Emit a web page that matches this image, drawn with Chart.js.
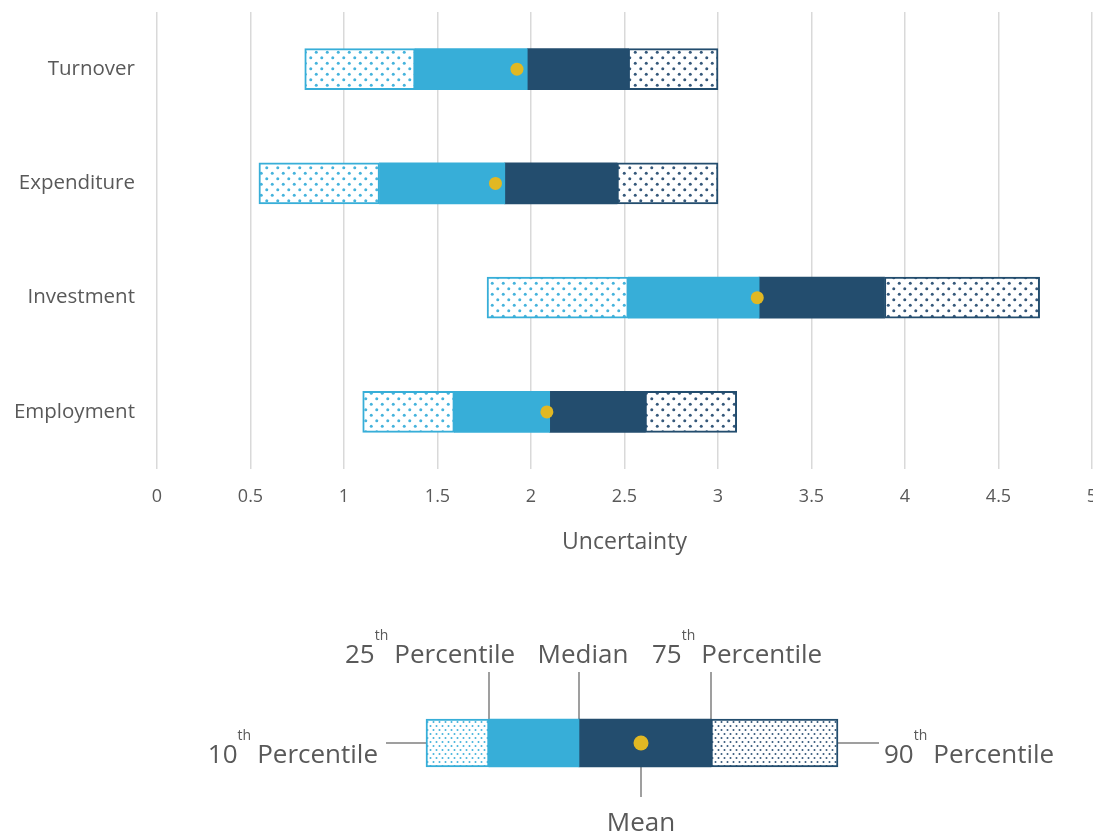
<!DOCTYPE html>
<html>
<head>
<meta charset="utf-8">
<script src="https://cdn.jsdelivr.net/npm/chart.js@4.4.1/dist/chart.umd.min.js"></script>
<style>
  html, body { margin: 0; padding: 0; background: #ffffff; overflow: hidden; width: 1093px; height: 836px; }
  #main { position: absolute; left: 0; top: 0; }
  #key  { position: absolute; left: 0; top: 600px; }
</style>
</head>
<body>
<canvas id="main" width="1097" height="570"></canvas>
<canvas id="key" width="1093" height="236"></canvas>
<script>
// ---- data ----
const categories = ['Turnover', 'Expenditure', 'Investment', 'Employment'];
const p10    = [0.79, 0.545, 1.765, 1.10];
const p25    = [1.38, 1.19, 2.52, 1.59];
const median = [1.98, 1.86, 3.22, 2.10];
const p75    = [2.52, 2.46, 3.89, 2.61];
const p90    = [3.00, 3.00, 4.72, 3.10];
const mean   = [1.925, 1.81, 3.21, 2.085];

const xTickValues = [0, 0.5, 1, 1.5, 2, 2.5, 3, 3.5, 4, 4.5, 5];
const xTickLabels = ['0', '0.5', '1', '1.5', '2', '2.5', '3', '3.5', '4', '4.5', '5'];
const xTitle = 'Uncertainty';

// illustrative distribution used in the key below the chart
const keyLabel  = ['Key'];
const keyP10    = [4.26];
const keyP25    = [4.89];
const keyMedian = [5.79];
const keyP75    = [7.11];
const keyP90    = [8.38];
const keyMean   = [6.41];

// ---- styling ----
const LIGHT = '#37AED8';
const DARK  = '#234D6E';
const GOLD  = '#E1B823';
const TEXT  = '#595959';
const FONT  = "'Open Sans', 'DejaVu Sans', sans-serif";

function dotPattern(ctx, dotColor, w, h, r, pts) {
  const c = document.createElement('canvas');
  c.width = w; c.height = h;
  const g = c.getContext('2d');
  g.fillStyle = '#ffffff';
  g.fillRect(0, 0, w, h);
  g.fillStyle = dotColor;
  pts.forEach(([x, y]) => { g.beginPath(); g.arc(x, y, r, 0, Math.PI * 2); g.fill(); });
  return ctx.createPattern(c, 'repeat');
}

const mainCtx = document.getElementById('main').getContext('2d');
const keyCtx  = document.getElementById('key').getContext('2d');

const lightDots    = dotPattern(mainCtx, '#45B3DC', 11, 11, 1.5, [[2.75, 2.75], [8.25, 8.25]]);
const darkDots     = dotPattern(mainCtx, '#35587A', 11, 11, 1.5, [[2.75, 2.75], [8.25, 8.25]]);
const keyLightDots = dotPattern(keyCtx, '#45B3DC', 6, 8, 1.0, [[1.5, 2], [4.5, 6]]);
const keyDarkDots  = dotPattern(keyCtx, '#35587A', 6, 8, 1.0, [[1.5, 2], [4.5, 6]]);

function segment(label, lo, hi, fill, edge, patterned, thickness) {
  return {
    label: label,
    data: lo.map((v, i) => [v, hi[i]]),
    backgroundColor: fill,
    borderColor: edge,
    borderWidth: patterned ? 2 : 0,
    borderSkipped: false,
    barThickness: thickness,
    grouped: false,
    order: 1
  };
}

// ---- main chart ----
new Chart(mainCtx, {
  type: 'bar',
  data: {
    labels: categories,
    datasets: [
      {
        type: 'line',
        label: 'Mean',
        data: mean,
        showLine: false,
        pointRadius: 6.5,
        pointHoverRadius: 6.5,
        pointBackgroundColor: GOLD,
        pointBorderWidth: 0,
        order: 0
      },
      segment('10th–25th percentile', p10, p25, lightDots, LIGHT, true, 41),
      segment('25th percentile–median', p25, median, LIGHT, LIGHT, false, 41),
      segment('Median–75th percentile', median, p75, DARK, DARK, false, 41),
      segment('75th–90th percentile', p75, p90, darkDots, DARK, true, 41)
    ]
  },
  options: {
    indexAxis: 'y',
    responsive: false,
    animation: false,
    events: [],
    layout: { autoPadding: false, padding: { top: 12, left: 0, right: 0, bottom: 0 } },
    plugins: { legend: { display: false }, tooltip: { enabled: false } },
    scales: {
      x: {
        type: 'linear',
        min: 0,
        max: 5,
        afterBuildTicks: (scale) => { scale.ticks = xTickValues.map(v => ({ value: v })); },
        afterFit: (scale) => {
          scale.height = 101;
          scale.paddingLeft = 0;
          scale.paddingRight = 5;
        },
        grid: { color: '#D9D9D9', lineWidth: 1.5, drawTicks: false },
        border: { display: false },
        ticks: {
          color: TEXT,
          font: { family: FONT, size: 18 },
          padding: 17,
          maxRotation: 0,
          autoSkip: false,
          callback: (v) => xTickLabels[xTickValues.indexOf(v)]
        },
        title: {
          display: true,
          text: xTitle,
          color: TEXT,
          font: { family: FONT, size: 23 },
          padding: { top: 0, bottom: 14 }
        }
      },
      y: {
        type: 'category',
        afterFit: (scale) => {
          scale.width = 157;
          scale.paddingTop = 0;
          scale.paddingBottom = 0;
        },
        grid: { display: false, drawTicks: false },
        border: { display: false },
        ticks: {
          color: TEXT,
          font: { family: FONT, size: 20.5 },
          padding: 22
        }
      }
    }
  }
});

// ---- key ----
const keyAnnotations = {
  id: 'keyAnnotations',
  beforeDatasetsDraw(chart) {
    const { ctx, scales: { x, y } } = chart;
    const yc = y.getPixelForValue(0);
    const top = yc - 24;
    ctx.save();
    ctx.strokeStyle = '#7F7F7F';
    ctx.lineWidth = 1.5;
    const seg = (x1, y1, x2, y2) => { ctx.beginPath(); ctx.moveTo(x1, y1); ctx.lineTo(x2, y2); ctx.stroke(); };
    [keyP25[0], keyMedian[0], keyP75[0]].forEach(v => {
      const px = Math.round(x.getPixelForValue(v));
      seg(px, top, px, top - 47);
    });
    const mx = Math.round(x.getPixelForValue(keyMean[0]));
    seg(mx, yc, mx, yc + 54);
    const x10 = x.getPixelForValue(keyP10[0]);
    const x90 = x.getPixelForValue(keyP90[0]);
    seg(x10 - 40, yc, x10, yc);
    seg(x90, yc, x90 + 41, yc);
    ctx.restore();
  },
  afterDraw(chart) {
    const { ctx, scales: { x, y } } = chart;
    const yc = y.getPixelForValue(0);
    const big = `26px ${FONT}`;
    const small = `14px ${FONT}`;
    ctx.save();
    ctx.fillStyle = TEXT;
    ctx.textBaseline = 'alphabetic';
    ctx.textAlign = 'left';

    // ordinal label such as "25th Percentile", raised suffix
    const ordinal = (num, word, left, base) => {
      ctx.font = big;
      const w1 = ctx.measureText(num).width;
      ctx.fillText(num, left, base);
      ctx.font = small;
      const w2 = ctx.measureText('th').width;
      ctx.fillText('th', left + w1, base - 23);
      ctx.font = big;
      ctx.fillText(word, left + w1 + w2 + 6, base);
    };
    const ordinalWidth = (num, word) => {
      ctx.font = big;
      const a = ctx.measureText(num).width + ctx.measureText(word).width;
      ctx.font = small;
      return a + ctx.measureText('th').width + 6;
    };

    const topBase = yc - 80;
    const sideBase = yc + 20;

    ordinal('25', 'Percentile', x.getPixelForValue(keyP25[0]) - 144, topBase);
    ctx.font = big;
    ctx.textAlign = 'center';
    ctx.fillText('Median', x.getPixelForValue(keyMedian[0]) + 4, topBase);
    ctx.textAlign = 'left';
    ordinal('75', 'Percentile', x.getPixelForValue(keyP75[0]) - 59, topBase);

    const w10 = ordinalWidth('10', 'Percentile');
    ordinal('10', 'Percentile', x.getPixelForValue(keyP10[0]) - 48 - w10, sideBase);
    ordinal('90', 'Percentile', x.getPixelForValue(keyP90[0]) + 46, sideBase);

    ctx.font = big;
    ctx.textAlign = 'center';
    ctx.fillText('Mean', x.getPixelForValue(keyMean[0]), yc + 88);
    ctx.restore();
  }
};

new Chart(keyCtx, {
  type: 'bar',
  data: {
    labels: keyLabel,
    datasets: [
      {
        type: 'line',
        label: 'Mean',
        data: keyMean,
        showLine: false,
        pointRadius: 7.5,
        pointHoverRadius: 7.5,
        pointBackgroundColor: GOLD,
        pointBorderWidth: 0,
        order: 0
      },
      segment('10th–25th percentile', keyP10, keyP25, keyLightDots, LIGHT, true, 48),
      segment('25th percentile–median', keyP25, keyMedian, LIGHT, LIGHT, false, 48),
      segment('Median–75th percentile', keyMedian, keyP75, DARK, DARK, false, 48),
      segment('75th–90th percentile', keyP75, keyP90, keyDarkDots, DARK, true, 48)
    ]
  },
  options: {
    indexAxis: 'y',
    responsive: false,
    animation: false,
    events: [],
    layout: { autoPadding: false, padding: { top: 50, left: 0, right: 0, bottom: 0 } },
    plugins: { legend: { display: false }, tooltip: { enabled: false } },
    scales: {
      x: { type: 'linear', min: 0, max: 10.93, display: false },
      y: { type: 'category', display: false }
    }
  },
  plugins: [keyAnnotations]
});
</script>
</body>
</html>
